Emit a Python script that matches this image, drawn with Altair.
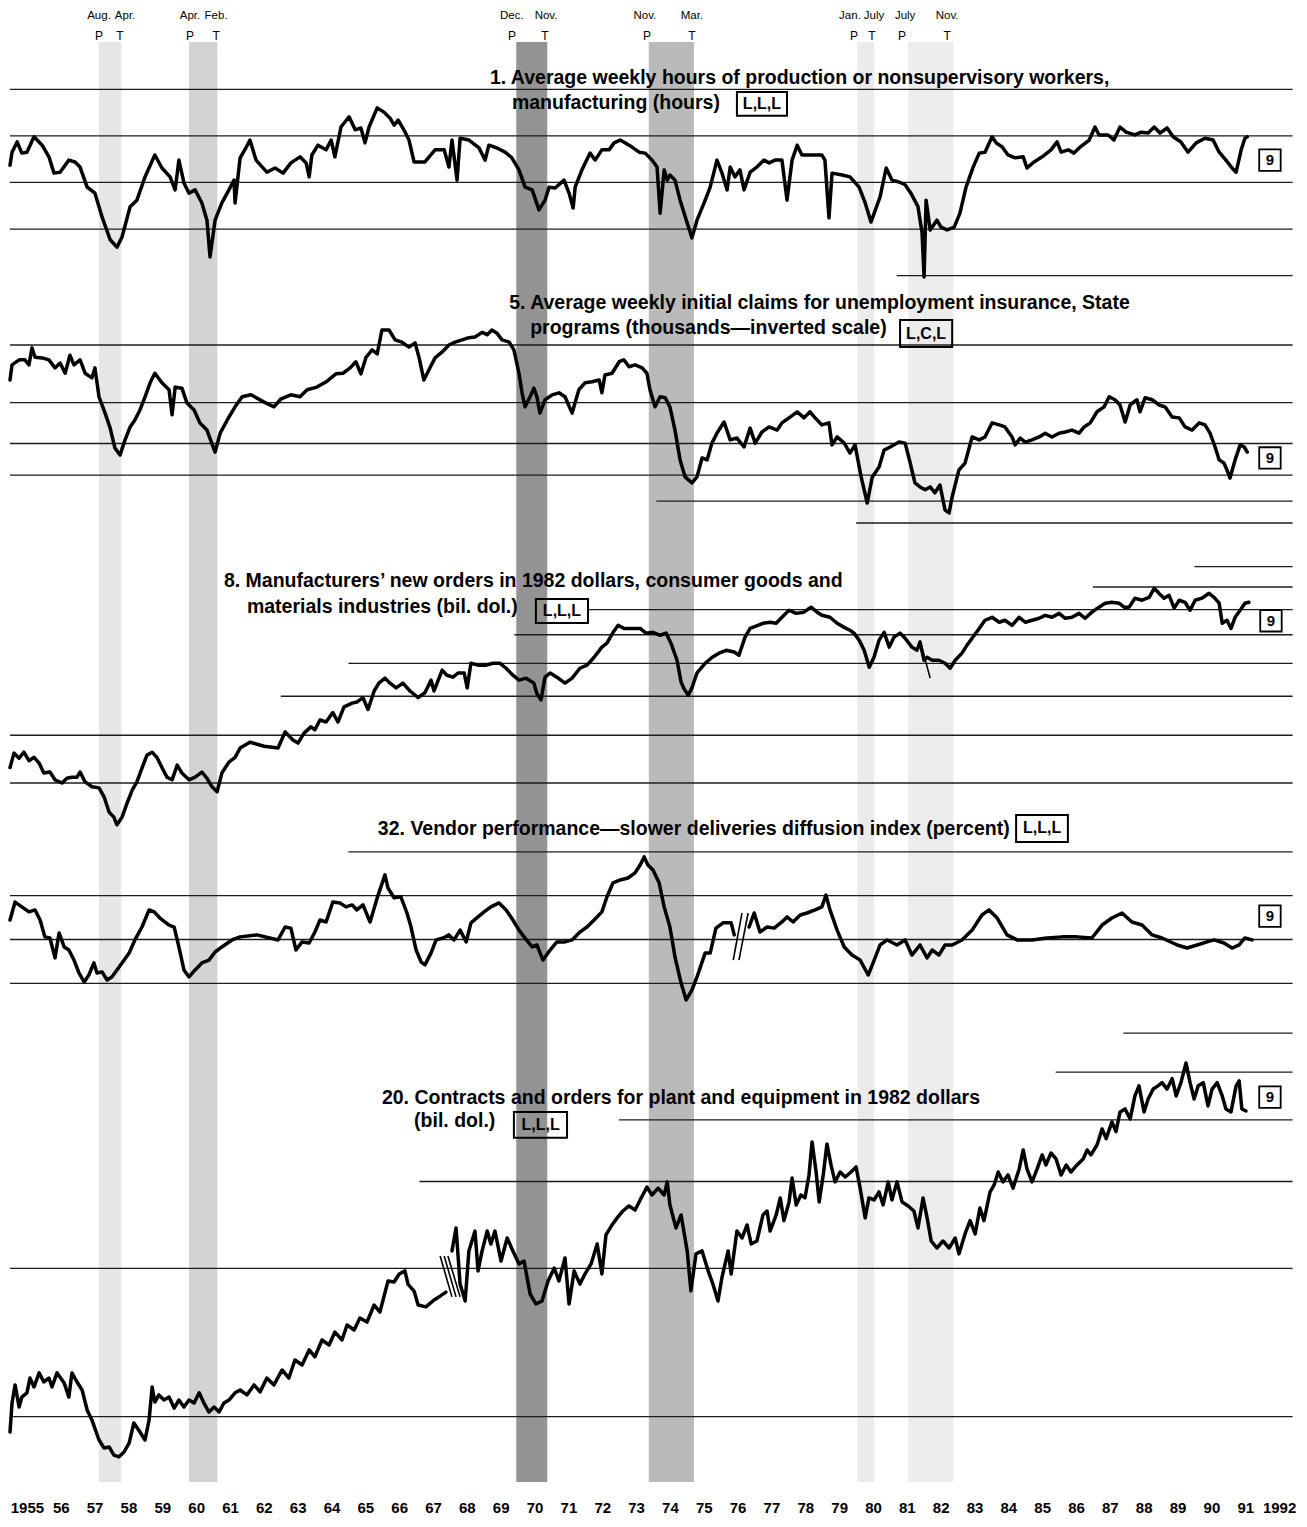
import math
import altair as alt
import pandas as pd

FONT = "Liberation Sans, Arial, Helvetica, sans-serif"
W, H = 1286, 1500          # plot area (chart px)
TOP = 8                    # page offset of the plot top

# ---------------- recessions ----------------
rec_peaks = [1957.625, 1960.29, 1969.96, 1973.875, 1980.04, 1981.54]
rec_troughs = [1958.29, 1961.125, 1970.875, 1975.21, 1980.54, 1982.875]
rec_shades = ["#e6e6e6", "#d3d3d3", "#939393", "#bababa", "#ebebeb", "#ececec"]
month_labels = ["Aug.", "Apr.", "Apr.", "Feb.", "Dec.", "Nov.", "Nov.", "Mar.", "Jan.", "July", "July", "Nov."]
month_label_dates = [1957.63, 1958.40, 1960.32, 1961.09, 1969.83, 1970.84, 1973.76, 1975.15, 1979.82, 1980.53, 1981.45, 1982.69]
pt_labels = ["P", "T", "P", "T", "P", "T", "P", "T", "P", "T", "P", "T"]
pt_dates = [1957.63, 1958.25, 1960.32, 1961.09, 1969.83, 1970.81, 1973.82, 1975.15, 1979.94, 1980.47, 1981.36, 1982.69]

# ---------------- series 1: average weekly hours (hours) ----------------
s1_points = [(1955.00,40.37),(1955.06,40.65),(1955.21,40.87),(1955.35,40.63),(1955.50,40.65),(1955.71,40.98),(1955.95,40.80),(1956.15,40.55),(1956.30,40.20),(1956.48,40.22),(1956.74,40.48),(1956.92,40.44),(1957.07,40.33),(1957.28,39.90),(1957.51,39.77),(1957.72,39.26),(1957.96,38.77),(1958.16,38.61),(1958.31,38.83),(1958.55,39.48),(1958.75,39.62),(1958.99,40.12),(1959.28,40.59),(1959.49,40.31),(1959.73,40.12),(1959.88,39.84),(1959.99,40.48),(1960.14,39.99),(1960.29,39.77),(1960.47,39.84),(1960.67,39.56),(1960.82,39.19),(1960.91,38.40),(1961.06,39.19),(1961.26,39.56),(1961.47,39.84),(1961.62,40.05),(1961.65,39.56),(1961.80,40.53),(1961.97,40.74),(1962.09,40.91),(1962.27,40.48),(1962.59,40.22),(1962.83,40.31),(1963.07,40.20),(1963.30,40.42),(1963.57,40.55),(1963.75,40.42),(1963.84,40.12),(1963.92,40.59),(1964.10,40.80),(1964.34,40.70),(1964.49,40.91),(1964.60,40.55),(1964.78,41.19),(1965.02,41.41),(1965.20,41.13),(1965.37,41.17),(1965.49,40.85),(1965.61,41.19),(1965.85,41.60),(1966.05,41.51),(1966.23,41.38),(1966.35,41.23),(1966.47,41.34),(1966.64,41.13),(1966.79,40.91),(1966.94,40.44),(1967.26,40.44),(1967.56,40.70),(1967.83,40.70),(1967.97,40.33),(1968.06,40.91),(1968.21,40.05),(1968.30,40.95),(1968.56,40.91),(1968.86,40.74),(1969.04,40.48),(1969.15,40.80),(1969.39,40.74),(1969.63,40.65),(1969.83,40.53),(1970.04,40.27),(1970.22,39.90),(1970.43,39.84),(1970.63,39.41),(1970.81,39.62),(1970.93,39.90),(1971.11,39.88),(1971.37,40.05),(1971.52,39.77),(1971.64,39.45),(1971.70,39.90),(1971.90,40.27),(1972.14,40.63),(1972.29,40.48),(1972.49,40.70),(1972.70,40.70),(1972.85,40.85),(1973.03,40.91),(1973.17,40.85),(1973.38,40.76),(1973.59,40.65),(1973.77,40.63),(1973.97,40.48),(1974.12,40.33),(1974.21,39.34),(1974.33,40.27),(1974.42,40.05),(1974.50,40.16),(1974.65,40.05),(1974.80,39.62),(1975.01,39.13),(1975.15,38.81),(1975.30,39.19),(1975.51,39.56),(1975.69,39.90),(1975.89,40.48),(1976.04,40.20),(1976.19,39.84),(1976.28,40.33),(1976.42,40.12),(1976.57,40.27),(1976.69,39.84),(1976.87,40.22),(1977.07,40.33),(1977.28,40.48),(1977.43,40.42),(1977.61,40.48),(1977.81,40.48),(1977.96,39.62),(1978.11,40.48),(1978.26,40.80),(1978.40,40.59),(1978.70,40.59),(1978.99,40.59),(1979.08,40.48),(1979.20,39.24),(1979.29,40.20),(1979.59,40.16),(1979.82,40.12),(1980.09,39.90),(1980.27,39.56),(1980.44,39.15),(1980.71,39.69),(1980.89,40.31),(1981.06,40.05),(1981.27,40.01),(1981.45,39.95),(1981.62,39.77),(1981.83,39.48),(1981.95,38.92),(1982.01,37.97),(1982.07,39.62),(1982.19,38.98),(1982.39,39.19),(1982.51,39.04),(1982.69,38.98),(1982.90,39.04),(1983.07,39.34),(1983.25,39.90),(1983.46,40.33),(1983.64,40.63),(1983.81,40.65),(1984.02,40.98),(1984.14,40.85),(1984.32,40.76),(1984.49,40.59),(1984.70,40.53),(1984.94,40.55),(1985.05,40.31),(1985.26,40.44),(1985.50,40.55),(1985.76,40.70),(1985.94,40.87),(1986.06,40.65),(1986.27,40.70),(1986.44,40.63),(1986.62,40.76),(1986.89,40.91),(1987.06,41.19),(1987.18,41.02),(1987.45,41.02),(1987.62,40.91),(1987.80,41.19),(1987.98,41.08),(1988.24,41.02),(1988.42,41.08),(1988.63,41.06),(1988.81,41.19),(1988.98,41.06),(1989.19,41.17),(1989.37,40.98),(1989.60,40.87),(1989.81,40.65),(1990.05,40.85),(1990.31,40.95),(1990.55,40.91),(1990.73,40.65),(1990.93,40.48),(1991.11,40.31),(1991.23,40.22),(1991.38,40.70),(1991.49,40.95),(1991.56,40.98)]
s1_grid = [(42, 1955.0, 1992.9), (41, 1955.0, 1992.9), (40, 1955.0, 1992.9), (39, 1955.0, 1992.9), (38, 1981.2, 1992.9)]
s1_titles = [(1969.18, 42.24, "1. Average weekly hours of production or nonsupervisory workers,"),
             (1969.83, 41.71, "manufacturing (hours)")]
s1_tag = (1976.48, 1977.96, 41.94, 41.43, 1977.22, 41.68, "L,L,L")
s1_nine = (1992.23, 40.48)

# ---------------- series 5: initial claims (thousands, inverted) ----------------
s5_points = [(1955.00,256),(1955.06,230),(1955.27,222),(1955.44,222),(1955.56,230),(1955.65,204),(1955.74,218),(1955.95,219),(1956.15,222),(1956.33,235),(1956.48,227),(1956.63,244),(1956.77,215),(1956.89,230),(1957.07,222),(1957.22,244),(1957.42,252),(1957.51,235),(1957.63,288),(1957.81,323),(1957.96,359),(1958.10,413),(1958.25,434),(1958.40,390),(1958.55,356),(1958.69,339),(1958.84,316),(1958.99,288),(1959.14,261),(1959.28,244),(1959.49,261),(1959.70,274),(1959.79,327),(1959.88,269),(1960.08,271),(1960.23,301),(1960.44,316),(1960.61,346),(1960.82,364),(1961.06,425),(1961.21,372),(1961.47,332),(1961.65,309),(1961.86,288),(1962.12,284),(1962.51,299),(1962.80,309),(1963.01,292),(1963.30,284),(1963.57,288),(1963.78,274),(1964.07,269),(1964.37,258),(1964.63,245),(1964.84,244),(1965.05,235),(1965.22,225),(1965.37,245),(1965.52,218),(1965.70,207),(1965.85,213),(1965.99,180),(1966.20,180),(1966.38,193),(1966.58,196),(1966.79,203),(1966.97,197),(1967.09,219),(1967.23,256),(1967.38,238),(1967.56,219),(1967.77,210),(1967.97,200),(1968.15,196),(1968.36,193),(1968.56,190),(1968.74,189),(1968.95,183),(1969.10,186),(1969.24,180),(1969.39,184),(1969.54,193),(1969.75,196),(1969.89,207),(1970.04,244),(1970.13,280),(1970.22,309),(1970.37,288),(1970.48,271),(1970.57,288),(1970.66,323),(1970.81,294),(1971.02,284),(1971.22,280),(1971.40,288),(1971.61,323),(1971.81,274),(1971.99,261),(1972.20,259),(1972.41,256),(1972.49,280),(1972.58,247),(1972.79,244),(1973.00,225),(1973.14,222),(1973.29,233),(1973.47,230),(1973.68,235),(1973.82,244),(1973.91,274),(1974.06,309),(1974.21,288),(1974.36,290),(1974.50,309),(1974.65,364),(1974.80,449),(1974.95,506),(1975.15,528),(1975.30,506),(1975.45,443),(1975.60,449),(1975.74,399),(1975.89,372),(1976.10,344),(1976.28,390),(1976.48,385),(1976.69,410),(1976.87,359),(1977.02,399),(1977.22,369),(1977.43,356),(1977.67,364),(1977.81,346),(1978.02,334),(1978.26,320),(1978.46,334),(1978.64,320),(1978.79,334),(1978.99,351),(1979.20,346),(1979.29,404),(1979.44,382),(1979.65,399),(1979.82,428),(1979.97,404),(1980.15,506),(1980.33,608),(1980.48,506),(1980.68,472),(1980.83,419),(1981.01,410),(1981.27,396),(1981.45,399),(1981.60,459),(1981.74,528),(1981.89,543),(1982.04,554),(1982.19,543),(1982.33,566),(1982.48,536),(1982.63,639),(1982.75,652),(1982.84,582),(1983.04,482),(1983.22,459),(1983.43,382),(1983.64,390),(1983.81,382),(1984.02,346),(1984.23,351),(1984.40,356),(1984.61,382),(1984.70,404),(1984.85,385),(1985.00,396),(1985.20,390),(1985.41,382),(1985.59,372),(1985.79,382),(1986.00,372),(1986.18,369),(1986.38,364),(1986.59,372),(1986.74,356),(1986.92,346),(1987.12,320),(1987.33,309),(1987.48,288),(1987.65,294),(1987.80,305),(1987.95,344),(1988.10,305),(1988.30,294),(1988.39,320),(1988.54,290),(1988.75,294),(1988.95,305),(1989.13,309),(1989.34,332),(1989.55,334),(1989.72,356),(1989.93,364),(1990.14,346),(1990.31,351),(1990.46,372),(1990.61,410),(1990.73,449),(1990.87,459),(1990.96,482),(1991.05,510),(1991.20,449),(1991.35,404),(1991.47,410),(1991.56,425)]
s5_grid = [(200, 1955.0, 1992.9), (300, 1955.0, 1992.9), (400, 1955.0, 1992.9), (500, 1955.0, 1992.9), (600, 1974.1, 1992.9), (700, 1980.0, 1992.9)]
s5_titles = [(1969.75, 148.8, "5. Average weekly initial claims for unemployment insurance, State"),
             (1970.37, 177.5, "programs (thousands\u2014inverted scale)")]
s5_tag = (1981.30, 1982.84, 167.7, 202.8, 1982.07, 185.1, "L,C,L")
s5_nine = (1992.23, 443)

# ---------------- series 8: new orders, consumer goods & materials (bil. dol.) ----------------
s8_points = [(1955.00,43.0),(1955.12,46.0),(1955.27,44.9),(1955.41,46.2),(1955.56,44.4),(1955.71,45.1),(1955.86,43.9),(1956.00,41.9),(1956.18,42.1),(1956.33,40.6),(1956.54,40.0),(1956.68,40.9),(1956.83,41.1),(1956.98,41.1),(1957.07,42.1),(1957.22,40.2),(1957.42,39.3),(1957.63,39.1),(1957.78,37.5),(1957.93,34.9),(1958.07,34.1),(1958.16,32.9),(1958.31,34.1),(1958.46,36.4),(1958.61,38.7),(1958.75,40.2),(1958.90,42.9),(1959.05,45.6),(1959.20,46.2),(1959.34,45.1),(1959.49,43.0),(1959.64,41.1),(1959.79,40.6),(1959.94,43.5),(1960.08,41.9),(1960.29,40.6),(1960.47,41.1),(1960.67,42.1),(1960.82,40.9),(1960.97,39.3),(1961.12,38.4),(1961.26,41.9),(1961.47,44.1),(1961.65,45.1),(1961.80,47.1),(1962.09,48.4),(1962.51,47.5),(1962.92,47.1),(1963.13,50.8),(1963.36,48.9),(1963.51,48.2),(1963.69,50.5),(1963.89,52.0),(1964.01,51.3),(1964.16,53.7),(1964.34,53.2),(1964.54,55.6),(1964.69,53.2),(1964.87,57.1),(1965.11,58.1),(1965.25,58.4),(1965.43,59.6),(1965.58,56.4),(1965.76,61.5),(1965.90,63.8),(1966.08,65.3),(1966.23,63.8),(1966.41,62.4),(1966.61,63.8),(1966.82,61.5),(1967.06,59.6),(1967.26,61.0),(1967.44,64.7),(1967.53,61.5),(1967.77,67.8),(1967.91,66.2),(1968.09,65.6),(1968.24,66.9),(1968.42,66.9),(1968.51,62.4),(1968.62,70.0),(1968.83,69.4),(1969.07,69.4),(1969.27,70.0),(1969.48,70.0),(1969.66,68.4),(1969.86,66.2),(1970.04,64.7),(1970.25,65.3),(1970.48,63.8),(1970.57,60.7),(1970.69,59.0),(1970.81,65.6),(1970.96,66.9),(1971.16,65.6),(1971.40,63.8),(1971.61,65.3),(1971.84,68.4),(1972.05,69.4),(1972.26,72.0),(1972.49,75.5),(1972.64,76.9),(1972.82,80.9),(1972.97,83.6),(1973.14,82.4),(1973.35,82.4),(1973.62,82.4),(1973.79,80.6),(1974.00,80.9),(1974.21,79.8),(1974.39,80.6),(1974.53,76.9),(1974.71,71.0),(1974.83,64.1),(1974.92,62.1),(1975.04,60.3),(1975.15,62.4),(1975.30,66.9),(1975.54,70.0),(1975.75,72.0),(1975.95,73.4),(1976.16,74.4),(1976.40,73.8),(1976.54,72.7),(1976.72,79.1),(1976.87,82.4),(1977.10,83.6),(1977.25,84.4),(1977.46,84.8),(1977.64,84.4),(1977.81,86.8),(1978.02,89.7),(1978.23,88.4),(1978.46,88.9),(1978.67,91.0),(1978.85,88.9),(1978.99,87.6),(1979.23,86.8),(1979.44,84.4),(1979.65,82.8),(1979.82,81.7),(1979.94,80.6),(1980.09,78.0),(1980.24,74.4),(1980.39,68.7),(1980.53,72.0),(1980.68,78.0),(1980.83,80.9),(1980.98,75.5),(1981.12,79.1),(1981.30,80.6),(1981.45,78.7),(1981.65,75.5),(1981.80,74.4),(1981.89,77.3),(1982.01,71.0),(1982.10,72.0),(1982.25,71.0),(1982.45,71.0),(1982.63,70.0),(1982.78,68.4),(1982.93,71.0),(1983.13,73.4),(1983.28,76.2),(1983.43,78.7),(1983.64,82.4),(1983.81,85.6),(1984.02,86.8),(1984.23,84.8),(1984.40,85.6),(1984.61,83.6),(1984.82,86.8),(1985.00,84.8),(1985.20,85.6),(1985.41,86.4),(1985.59,87.6),(1985.79,86.8),(1986.00,88.4),(1986.18,86.4),(1986.38,86.8),(1986.59,88.4),(1986.77,86.4),(1986.97,88.9),(1987.18,91.0),(1987.36,92.7),(1987.56,93.1),(1987.77,92.7),(1987.92,91.0),(1988.07,91.0),(1988.24,94.9),(1988.45,94.0),(1988.66,95.3),(1988.81,99.4),(1988.95,97.1),(1989.10,94.9),(1989.25,96.2),(1989.40,90.6),(1989.55,94.0),(1989.72,93.1),(1989.87,89.7),(1990.02,94.0),(1990.22,94.9),(1990.43,97.1),(1990.58,95.3),(1990.73,92.7),(1990.82,84.4),(1990.96,85.6),(1991.08,82.4),(1991.20,86.8),(1991.35,89.7),(1991.49,92.7),(1991.61,93.1)]
s8_grid = [(40, 1955.0, 1992.9), (50, 1955.0, 1992.9), (60, 1963.0, 1992.9), (70, 1965.0, 1992.9), (80, 1969.9, 1992.9), (90, 1972.1, 1992.9), (100, 1987.0, 1992.9), (110, 1990.0, 1992.9)]
s8_titles = [(1961.32, 102.8, "8. Manufacturers\u2019 new orders in 1982 dollars, consumer goods and"),
             (1962.00, 91.0, "materials industries (bil. dol.)")]
s8_tag = (1970.54, 1972.08, 94.5, 84.5, 1971.31, 89.3, "L,L,L")
s8_nine = (1992.26, 85.4)
s8_breaks = [(0, 1981.89, 78.0), (0, 1982.19, 65.3)]

# ---------------- series 32: vendor performance (percent) ----------------
s32_part1 = [(1955.00,58.9),(1955.15,67.1),(1955.35,64.9),(1955.56,62.6),(1955.74,63.5),(1955.89,58.9),(1956.03,51.2),(1956.18,50.7),(1956.33,41.6),(1956.45,53.0),(1956.60,46.6),(1956.74,45.2),(1956.89,40.6),(1957.04,34.7),(1957.19,30.6),(1957.33,33.8),(1957.48,39.3),(1957.57,34.7),(1957.72,35.2),(1957.87,31.5),(1958.01,32.9),(1958.16,36.1),(1958.31,39.3),(1958.52,43.8),(1958.69,49.8),(1958.90,55.7),(1959.11,63.5),(1959.26,62.6),(1959.43,59.8),(1959.70,56.6),(1959.85,55.7),(1959.99,46.6),(1960.14,36.1),(1960.29,32.9),(1960.47,36.1),(1960.67,39.3),(1960.88,40.6),(1961.06,44.3),(1961.26,46.6),(1961.56,49.8),(1961.80,51.2),(1962.30,52.1),(1962.92,49.8),(1963.13,55.7),(1963.30,55.2),(1963.45,45.2),(1963.63,48.9),(1963.84,48.4),(1964.01,53.4),(1964.16,58.9),(1964.34,58.0),(1964.54,67.1),(1964.75,66.7),(1964.93,64.9),(1965.11,65.8),(1965.25,63.5),(1965.43,65.8),(1965.64,58.0),(1965.85,69.0),(1966.08,79.5),(1966.17,73.5),(1966.35,69.0),(1966.55,69.5),(1966.73,62.1),(1966.85,55.7),(1967.00,45.2),(1967.15,39.7),(1967.26,38.4),(1967.44,43.8),(1967.59,49.8),(1967.80,50.7),(1967.97,52.1),(1968.12,49.8),(1968.30,54.3),(1968.48,48.9),(1968.62,57.6),(1968.83,60.3),(1969.01,62.6),(1969.21,64.9),(1969.45,66.7),(1969.66,63.5),(1969.86,58.9),(1970.04,54.3),(1970.19,51.2),(1970.43,46.6),(1970.57,47.5),(1970.75,40.6),(1970.96,45.2),(1971.16,48.9),(1971.40,48.9),(1971.61,49.8),(1971.84,53.4),(1972.05,55.7),(1972.26,58.9),(1972.49,62.6),(1972.64,69.5),(1972.82,75.9),(1973.03,77.2),(1973.26,78.1),(1973.47,80.4),(1973.62,84.0),(1973.74,87.7),(1973.85,84.0),(1974.00,81.7),(1974.18,75.9),(1974.33,64.9),(1974.50,55.7),(1974.65,42.0),(1974.83,30.1),(1974.98,22.4),(1975.15,26.9),(1975.30,32.9),(1975.54,43.8),(1975.69,43.8),(1975.86,55.2),(1976.07,57.6),(1976.31,57.6),(1976.40,52.1)]
s32_part2 = [(1976.84,55.7),(1976.99,62.1),(1977.16,53.4),(1977.37,55.7),(1977.58,55.2),(1977.81,58.0),(1977.96,60.3),(1978.14,58.0),(1978.35,61.2),(1978.55,62.1),(1978.79,63.5),(1978.99,64.9),(1979.11,70.3),(1979.23,63.5),(1979.44,54.3),(1979.65,46.6),(1979.88,42.9),(1980.12,40.6),(1980.36,33.8),(1980.48,38.4),(1980.71,47.5),(1980.92,49.8),(1981.21,47.5),(1981.45,49.8),(1981.65,42.9),(1981.89,47.5),(1982.10,41.6),(1982.25,45.2),(1982.45,42.9),(1982.63,47.5),(1982.84,47.5),(1983.13,49.8),(1983.43,54.3),(1983.72,61.2),(1983.93,63.5),(1984.17,59.8),(1984.46,52.1),(1984.76,49.8),(1985.20,49.8),(1985.64,50.7),(1986.09,51.2),(1986.53,51.2),(1986.97,50.7),(1987.27,56.6),(1987.56,59.8),(1987.86,62.1),(1988.15,58.0),(1988.45,56.6),(1988.75,52.1),(1989.04,50.7),(1989.49,47.5),(1989.78,46.1),(1990.08,47.5),(1990.37,48.9),(1990.58,49.8),(1990.87,48.4),(1991.11,46.1),(1991.32,47.5),(1991.49,50.7),(1991.70,49.8)]
s32_grid = [(30, 1955.0, 1992.9), (50, 1955.0, 1992.9), (70, 1955.0, 1992.9), (90, 1965.0, 1992.9)]
s32_titles = [(1965.87, 100.45, "32. Vendor performance\u2014slower deliveries diffusion index (percent)")]
s32_tag = (1984.73, 1986.26, 106.9, 94.5, 1985.50, 100.7, "L,L,L")
s32_nine = (1992.23, 60.7)
s32_breaks = [(0, 1976.37, 40.6), (0, 1976.63, 62.1), (1, 1976.54, 40.6), (1, 1976.81, 62.1)]

# ---------------- series 20: contracts & orders for plant and equipment (bil. dol.) ----------------
s20_part1 = [(1955.00,9.31),(1955.06,10.66),(1955.15,11.60),(1955.27,10.46),(1955.35,10.96),(1955.50,11.18),(1955.59,11.98),(1955.71,11.49),(1955.86,12.27),(1956.00,11.76),(1956.15,11.98),(1956.24,11.49),(1956.39,12.27),(1956.60,11.71),(1956.74,10.96),(1956.83,12.27),(1956.98,11.76),(1957.13,11.33),(1957.28,10.32),(1957.42,9.85),(1957.63,8.97),(1957.78,8.64),(1957.93,8.68),(1958.07,8.36),(1958.22,8.29),(1958.37,8.48),(1958.52,8.84),(1958.66,9.71),(1958.84,9.31),(1958.99,8.97),(1959.11,9.85),(1959.20,11.49),(1959.28,10.71),(1959.40,11.07),(1959.55,10.81),(1959.70,10.96),(1959.85,10.41),(1959.99,10.81),(1960.14,10.46),(1960.29,10.81),(1960.44,10.66),(1960.59,11.18),(1960.73,10.66),(1960.88,10.22),(1961.03,10.46),(1961.18,10.22),(1961.32,10.66),(1961.47,10.81),(1961.65,11.18),(1961.80,11.33),(1962.00,11.07),(1962.21,11.60),(1962.39,11.23),(1962.59,11.98),(1962.80,11.60),(1963.04,12.44),(1963.24,11.98),(1963.42,13.03),(1963.63,12.73),(1963.84,13.66),(1964.01,13.23),(1964.22,14.31),(1964.43,13.98),(1964.60,14.85),(1964.81,14.31),(1964.96,15.35),(1965.17,14.99),(1965.34,15.86),(1965.55,15.56),(1965.76,16.85),(1965.93,16.30),(1966.17,18.85),(1966.35,18.76),(1966.50,19.48),(1966.67,19.76),(1966.76,18.58),(1966.94,17.98),(1967.06,16.85),(1967.29,16.70),(1967.53,17.25),(1967.71,17.56),(1967.88,17.89)]
s20_part2 = [(1968.06,21.69),(1968.18,24.15),(1968.30,18.58),(1968.45,17.17),(1968.56,21.69),(1968.74,23.80),(1968.83,19.76),(1968.95,21.69),(1969.10,23.80),(1969.21,22.41),(1969.33,23.80),(1969.51,20.69),(1969.69,23.04),(1969.86,21.69),(1970.04,20.41),(1970.19,20.69),(1970.37,17.73),(1970.54,16.93),(1970.72,17.17),(1970.90,18.85),(1971.08,20.01),(1971.22,18.85),(1971.40,20.99),(1971.52,16.93),(1971.67,19.76),(1971.84,18.58),(1971.99,19.48),(1972.17,20.41),(1972.35,22.41),(1972.49,19.48),(1972.61,23.37),(1972.79,24.49),(1972.94,25.31),(1973.11,26.14),(1973.29,26.76),(1973.47,26.27),(1973.65,27.78),(1973.82,29.23),(1973.97,28.17),(1974.15,29.09),(1974.33,28.17),(1974.42,29.95),(1974.50,26.89),(1974.68,24.15),(1974.83,25.66),(1975.01,21.69),(1975.12,18.00),(1975.27,21.39),(1975.45,21.69),(1975.63,19.76),(1975.77,18.58),(1975.92,17.17),(1976.04,19.20),(1976.22,21.69),(1976.31,19.48),(1976.48,23.80),(1976.63,23.04),(1976.78,24.49),(1976.90,22.41),(1977.07,22.72),(1977.25,25.66),(1977.37,26.14),(1977.46,23.80),(1977.64,25.66),(1977.76,27.78),(1977.87,24.99),(1978.02,27.27),(1978.11,30.50),(1978.23,26.89),(1978.37,28.17),(1978.49,27.78),(1978.61,30.93),(1978.70,36.09),(1978.82,31.36),(1978.91,27.27),(1979.03,30.93),(1979.14,35.75),(1979.26,32.41),(1979.38,29.95),(1979.53,31.36),(1979.68,30.64),(1979.85,31.36),(1980.00,32.11),(1980.12,29.09),(1980.27,25.31),(1980.38,27.78),(1980.53,27.52),(1980.68,28.57),(1980.80,26.89),(1980.95,29.95),(1981.06,27.52),(1981.21,29.95),(1981.36,27.27),(1981.54,26.76),(1981.71,26.14),(1981.83,24.15),(1981.98,27.78),(1982.10,25.31),(1982.22,22.72),(1982.39,21.99),(1982.57,22.72),(1982.75,21.99),(1982.93,23.04),(1983.04,21.39),(1983.22,23.48),(1983.37,24.99),(1983.52,23.48),(1983.66,26.51),(1983.78,24.99),(1983.96,28.57),(1984.08,29.52),(1984.20,31.36),(1984.34,29.95),(1984.49,30.93),(1984.64,29.09),(1984.82,31.81),(1984.94,34.76),(1985.05,31.81),(1985.20,29.95),(1985.35,31.81),(1985.50,33.96),(1985.61,32.41),(1985.76,34.27),(1985.91,33.33),(1986.06,30.93),(1986.21,32.41),(1986.35,31.36),(1986.53,32.41),(1986.71,33.33),(1986.83,34.76),(1986.94,33.96),(1987.12,35.58),(1987.27,38.35),(1987.39,36.66),(1987.56,39.62),(1987.68,37.86),(1987.80,41.52),(1987.95,42.10),(1988.10,40.18),(1988.24,44.74),(1988.36,46.90),(1988.51,41.52),(1988.63,44.10),(1988.78,46.20),(1988.92,46.90),(1989.04,47.60),(1989.19,46.20),(1989.34,48.50),(1989.46,44.74),(1989.60,47.60),(1989.75,52.20),(1989.87,47.60),(1989.99,44.10),(1990.11,46.90),(1990.26,47.60),(1990.40,42.70),(1990.52,46.20),(1990.67,47.60),(1990.82,44.74),(1990.93,42.10),(1991.08,41.52),(1991.23,46.90),(1991.32,48.00),(1991.40,42.10),(1991.52,41.70)]
s20_grid = [(10, 1955.0, 1992.9), (20, 1955.0, 1992.9), (30, 1967.1, 1992.9), (40, 1973.0, 1992.9), (50, 1985.9, 1992.9), (60, 1987.9, 1992.9)]
s20_titles = [(1965.99, 44.3, "20. Contracts and orders for plant and equipment in 1982 dollars"),
              (1966.94, 39.8, "(bil. dol.)")]
s20_tag = (1969.89, 1971.46, 41.5, 36.8, 1970.68, 39.05, "L,L,L")
s20_nine = (1992.23, 44.5)
s20_breaks = [(0, 1967.71, 21.19), (0, 1968.06, 17.50), (1, 1967.83, 21.19), (1, 1968.18, 17.50), (2, 1967.94, 21.19), (2, 1968.30, 17.50)]

# ---------------- scales ----------------
def lin_domain(va, ya, vb, yb):
    ca, cb = ya - TOP, yb - TOP
    k = (vb - va) / (cb - ca)
    return [va + k * (H - ca), va + k * (0 - ca)]

def log_domain(va, ya, vb, yb):
    la, lb = math.log(va), math.log(vb)
    ca, cb = ya - TOP, yb - TOP
    k = (lb - la) / (cb - ca)
    return sorted([math.exp(la + k * (0 - ca)), math.exp(la + k * (H - ca))])

XS = alt.Scale(domain=[1955, 1993], nice=False, zero=False)
YEAR_AXIS = alt.Axis(
    values=[y + 0.5 for y in range(1955, 1993)],
    labelExpr="(floor(datum.value) == 1955 || floor(datum.value) == 1992) ? '' + floor(datum.value) : substring('' + floor(datum.value), 2, 4)",
    ticks=False, domain=False, grid=False, labelFont=FONT, labelFontSize=15,
    labelFontWeight="bold", labelColor="black", labelPadding=-8,
    labelOverlap=False, labelFlush=False, title=None,
)

def xenc(field):
    return alt.X(field, type="quantitative", scale=XS, axis=YEAR_AXIS)

Y1 = alt.Scale(type="linear", domain=lin_domain(42, 89.3, 38, 275.6), nice=False, zero=False)
Y5 = alt.Scale(type="log", domain=log_domain(200, 345, 700, 523), nice=False, reverse=True)
Y8 = alt.Scale(type="log", domain=log_domain(40, 783, 100, 587), nice=False)
Y32 = alt.Scale(type="linear", domain=lin_domain(30, 983.3, 90, 851.9), nice=False, zero=False)
Y20 = alt.Scale(type="log", domain=log_domain(10, 1416.7, 60, 1033.1), nice=False)


def series_layer(parts, grid, titles, tag, nine, yscale, breaks=None):
    def yenc(field):
        return alt.Y(field, type="quantitative", scale=yscale, axis=None)

    rows = [{"date": d, "value": v, "seg": i} for i, part in enumerate(parts) for d, v in part]
    line_df = pd.DataFrame(rows)
    grid_df = pd.DataFrame(grid, columns=["value", "start", "end"])
    title_df = pd.DataFrame(titles, columns=["date", "value", "text"])
    tag_df = pd.DataFrame([tag], columns=["d1", "d2", "v1", "v2", "dc", "vc", "text"])
    nine_df = pd.DataFrame([nine], columns=["date", "value"])

    rules = alt.Chart(grid_df).mark_rule(color="#1c1c1c", strokeWidth=1.3).encode(
        x=xenc("start"), x2="end:Q", y=yenc("value"))
    line = alt.Chart(line_df).mark_line(color="black", strokeWidth=3.5, strokeJoin="round", strokeCap="round").encode(
        x=xenc("date"), y=yenc("value"), detail="seg:N")
    ttl = alt.Chart(title_df).mark_text(align="left", baseline="middle", font=FONT, fontWeight="bold",
                                        fontSize=19.5, color="black").encode(
        x=xenc("date"), y=yenc("value"), text="text:N")
    tag_box = alt.Chart(tag_df).mark_rect(fill="white", fillOpacity=0, stroke="black", strokeWidth=2).encode(
        x=xenc("d1"), x2="d2:Q", y=yenc("v1"), y2="v2:Q")
    tag_txt = alt.Chart(tag_df).mark_text(font=FONT, fontWeight="bold", fontSize=16, color="black",
                                          baseline="middle").encode(
        x=xenc("dc"), y=yenc("vc"), text="text:N")
    nine_box = alt.Chart(nine_df).mark_point(shape="square", size=460, filled=False, color="black",
                                             strokeWidth=1.8, opacity=1).encode(
        x=xenc("date"), y=yenc("value"))
    nine_txt = alt.Chart(nine_df).mark_text(text="9", font=FONT, fontWeight="bold", fontSize=15,
                                            color="black", baseline="middle").encode(
        x=xenc("date"), y=yenc("value"))
    layers = [rules, line, ttl, tag_box, tag_txt, nine_box, nine_txt]
    if breaks:
        br_df = pd.DataFrame(breaks, columns=["id", "date", "value"])
        layers.append(alt.Chart(br_df).mark_line(color="black", strokeWidth=1.6).encode(
            x=xenc("date"), y=yenc("value"), detail="id:N"))
    return alt.layer(*layers)


rec_df = pd.DataFrame({"start": rec_peaks, "end": rec_troughs, "shade": rec_shades})
rec = alt.Chart(rec_df).mark_rect().encode(
    x=xenc("start"), x2="end:Q", y=alt.value(34), y2=alt.value(1474),
    color=alt.Color("shade:N", scale=None))
mon_df = pd.DataFrame({"date": month_label_dates, "text": month_labels})
mon = alt.Chart(mon_df).mark_text(font=FONT, fontSize=11.5, color="black", baseline="middle").encode(
    x=xenc("date"), y=alt.value(8), text="text:N")
pt_df = pd.DataFrame({"date": pt_dates, "text": pt_labels})
pt = alt.Chart(pt_df).mark_text(font=FONT, fontSize=12, color="black", baseline="middle").encode(
    x=xenc("date"), y=alt.value(28), text="text:N")

s1 = series_layer([s1_points], s1_grid, s1_titles, s1_tag, s1_nine, Y1)
s5 = series_layer([s5_points], s5_grid, s5_titles, s5_tag, s5_nine, Y5)
s8 = series_layer([s8_points], s8_grid, s8_titles, s8_tag, s8_nine, Y8, s8_breaks)
s32 = series_layer([s32_part1, s32_part2], s32_grid, s32_titles, s32_tag, s32_nine, Y32, s32_breaks)
s20 = series_layer([s20_part1, s20_part2], s20_grid, s20_titles, s20_tag, s20_nine, Y20, s20_breaks)

chart = alt.layer(rec, mon, pt, s1, s5, s8, s32, s20).resolve_scale(y="independent").properties(
    width=W, height=H, padding=0, background="white"
).configure_view(stroke=None)

chart.save("out.html", embed_options={"renderer": "svg", "actions": False})
